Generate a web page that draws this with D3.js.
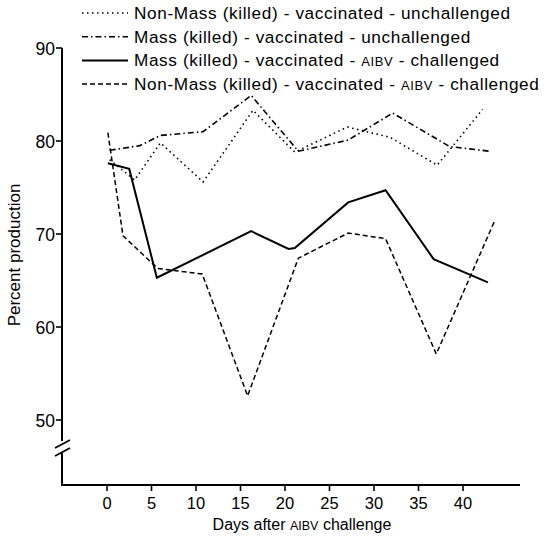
<!DOCTYPE html>
<html>
<head>
<meta charset="utf-8">
<script src="https://cdn.jsdelivr.net/npm/d3@7"></script>
<style>
  body { margin: 0; background: #fff; }
  svg { font-family: "Liberation Sans", Arial, sans-serif; }
</style>
</head>
<body>
<svg id="chart" width="544" height="536"></svg>
<script>
// series values (day, percent)
const nonMassUnch = [[0.3, 78.0], [3.1, 75.8], [6.0, 79.8], [10.8, 75.6], [16.4, 83.3], [21.1, 78.8], [27.0, 81.5], [31.8, 80.4], [37.1, 77.4], [42.2, 83.4]];
const massUnch = [[0.3, 79.0], [3.7, 79.5], [6.0, 80.6], [10.8, 81.0], [16.2, 84.9], [21.5, 78.9], [27.1, 80.1], [32.1, 83.0], [38.5, 79.4], [43.0, 78.9]];
const massChal = [[0.1, 77.6], [2.5, 77.0], [5.6, 65.3], [16.2, 70.3], [20.4, 68.4], [21.1, 68.5], [27.1, 73.4], [31.3, 74.7], [36.7, 67.3], [42.8, 64.8]];
const nonMassChal = [[0.1, 80.9], [1.8, 69.8], [5.7, 66.3], [10.7, 65.7], [15.8, 52.6], [21.5, 67.4], [27.1, 70.1], [31.3, 69.5], [37.0, 57.1], [43.5, 71.3]];

const xTicks = [0, 5, 10, 15, 20, 25, 30, 35, 40];
const yTicks = [50, 60, 70, 80, 90];

const legendItems = [
  { parts: ["Non-Mass (killed) - vaccinated - unchallenged"], dash: "1.5,3.5", w: 1.6, data: nonMassUnch },
  { parts: ["Mass (killed) - vaccinated - unchallenged"], dash: "6,3,1.5,3", w: 1.6, data: massUnch },
  { parts: ["Mass (killed) - vaccinated - ", "AIBV", " - challenged"], dash: null, w: 2, data: massChal },
  { parts: ["Non-Mass (killed) - vaccinated - ", "AIBV", " - challenged"], dash: "5,3", w: 1.5, data: nonMassChal }
];

const svg = d3.select("#chart");
const x = d3.scaleLinear().domain([0, 40]).range([107, 463]);
const y = d3.scaleLinear().domain([50, 90]).range([420, 48]);

const axisX = 62, baseY = 485;

// y axis with a break near the bottom
svg.append("line").attr("x1", axisX).attr("x2", axisX).attr("y1", y(90)).attr("y2", 441)
  .attr("stroke", "#000").attr("stroke-width", 2);
svg.append("line").attr("x1", axisX).attr("x2", axisX).attr("y1", 453).attr("y2", baseY)
  .attr("stroke", "#000").attr("stroke-width", 2);
[0, 8].forEach(o => {
  svg.append("line").attr("x1", 55).attr("y1", 448 + o).attr("x2", 70).attr("y2", 440 + o)
    .attr("stroke", "#000").attr("stroke-width", 1.6);
});

svg.selectAll(".ytick").data(yTicks).enter().append("line")
  .attr("x1", axisX - 6).attr("x2", axisX).attr("y1", d => y(d)).attr("y2", d => y(d))
  .attr("stroke", "#000").attr("stroke-width", 1.6);
svg.selectAll(".ylab").data(yTicks).enter().append("text")
  .attr("x", 55).attr("y", d => y(d) + 6.5).attr("text-anchor", "end")
  .attr("font-size", 17.5).text(d => d);

// x axis
svg.append("line").attr("x1", axisX - 1).attr("x2", 520).attr("y1", baseY).attr("y2", baseY)
  .attr("stroke", "#000").attr("stroke-width", 2);
svg.selectAll(".xtick").data(xTicks).enter().append("line")
  .attr("x1", d => x(d)).attr("x2", d => x(d)).attr("y1", baseY).attr("y2", baseY + 6)
  .attr("stroke", "#000").attr("stroke-width", 1.6);
svg.selectAll(".xlab").data(xTicks).enter().append("text")
  .attr("x", d => x(d)).attr("y", 509).attr("text-anchor", "middle")
  .attr("font-size", 16.5).text(d => d);

const xt = svg.append("text").attr("x", 302).attr("y", 530).attr("text-anchor", "middle").attr("font-size", 16);
xt.append("tspan").text("Days after ");
xt.append("tspan").attr("font-size", 12.5).text("AIBV");
xt.append("tspan").text(" challenge");

svg.append("text").attr("transform", "translate(20,255) rotate(-90)")
  .attr("text-anchor", "middle").attr("font-size", 17).text("Percent production");

// series
const line = d3.line().x(d => x(d[0])).y(d => y(d[1]));
legendItems.forEach(s => {
  svg.append("path").attr("d", line(s.data)).attr("fill", "none")
    .attr("stroke", "#000").attr("stroke-width", s.w)
    .attr("stroke-dasharray", s.dash);
});

// legend
legendItems.forEach((s, i) => {
  const ly = 13 + i * 23.7;
  svg.append("line").attr("x1", 82).attr("x2", 128).attr("y1", ly).attr("y2", ly)
    .attr("stroke", "#000").attr("stroke-width", s.w).attr("stroke-dasharray", s.dash);
  const t = svg.append("text").attr("x", 134).attr("y", ly + 6).attr("font-size", 17.2)
    .attr("letter-spacing", 0.62);
  s.parts.forEach(p => {
    const sp = t.append("tspan").text(p);
    if (p === "AIBV") sp.attr("font-size", 13);
  });
});
</script>
</body>
</html>
